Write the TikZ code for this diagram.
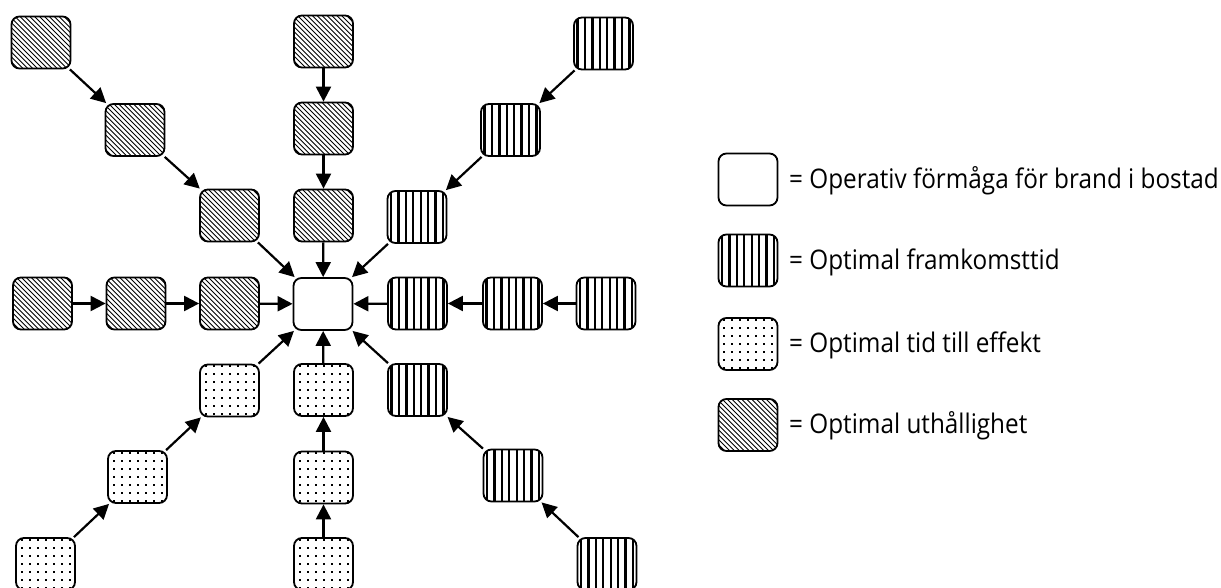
\documentclass[tikz,border=0pt]{standalone}
\usepackage{fontspec}
\setmainfont{Open Sans}[FakeStretch=0.9]
\usetikzlibrary{arrows.meta}

\tikzset{
  box/.style={draw, line width=1.8pt, rounded corners=8pt,
    minimum width=59pt, minimum height=52pt, inner sep=0pt},
  plain/.style={box, fill=white},
  % diagonal hatching, running from upper left to lower right
  uth/.style={box, path picture={
    \foreach \k in {-16,...,16}
      \draw[sharp corners, line width=0.9pt]
        ([shift={(\k*4.9pt-35pt,35pt)}]path picture bounding box.center) --
        ([shift={(\k*4.9pt+35pt,-35pt)}]path picture bounding box.center);
  }},
  % thick vertical stripes
  fram/.style={box, path picture={
    \foreach \k in {0,...,7}
      \fill[sharp corners]
        ([xshift={(\k-3.5)*7.4pt-1.15pt},yshift=-40pt]path picture bounding box.center)
        rectangle ([xshift={(\k-3.5)*7.4pt+1.15pt},yshift=40pt]path picture bounding box.center);
  }},
  % grid of small dots
  eff/.style={box, path picture={
    \foreach \i in {-3,...,3}
      \foreach \j in {-3,...,3}
        \fill[sharp corners]
          ([shift={(\i*8pt-1pt,\j*8pt-0.5pt)}]path picture bounding box.center)
          rectangle +(2pt,2pt);
  }},
  arr/.style={line width=2.2pt, -{Triangle[length=15pt,width=15pt]}},
  legtext/.style={anchor=base west, inner sep=0pt,
    font=\fontsize{27}{33}\selectfont},
}

\begin{document}
\begin{tikzpicture}[x=1pt,y=-1pt]
\useasboundingbox (0,0) rectangle (1221,588);

% centre
\node[plain] (c) at (323,304) {};

% upper-left diagonal
\node[uth] (tl1) at (41,42.5) {};
\node[uth] (tl2) at (135,130) {};
\node[uth] (tl3) at (229.5,215.5) {};
% upper column
\node[uth] (t1) at (323.5,41.5) {};
\node[uth] (t2) at (323.5,128.5) {};
\node[uth] (t3) at (323.5,215.5) {};
% left row
\node[uth] (l1) at (42.5,303.5) {};
\node[uth] (l2) at (136,303.5) {};
\node[uth] (l3) at (229.5,303.5) {};

% upper-right diagonal
\node[fram] (tr1) at (603.5,43.5) {};
\node[fram] (tr2) at (510.5,130) {};
\node[fram] (tr3) at (417,217) {};
% right row
\node[fram] (r1) at (606,303.5) {};
\node[fram] (r2) at (512.5,303.5) {};
\node[fram] (r3) at (417.5,303.5) {};
% lower-right diagonal
\node[fram] (br1) at (607,564) {};
\node[fram] (br2) at (513,475.5) {};
\node[fram] (br3) at (417.5,390) {};

% lower-left diagonal
\node[eff] (bl1) at (45.5,564) {};
\node[eff] (bl2) at (137.5,477) {};
\node[eff] (bl3) at (229.5,390.5) {};
% lower column
\node[eff] (b1) at (323.5,564) {};
\node[eff] (b2) at (323.5,477.5) {};
\node[eff] (b3) at (323.5,390) {};

% chains towards the centre
\foreach \a/\b in {tl1/tl2, tl2/tl3, tl3/c, t1/t2, t2/t3, t3/c,
                   l1/l2, l2/l3, l3/c, tr1/tr2, tr2/tr3, tr3/c,
                   r1/r2, r2/r3, r3/c, br1/br2, br2/br3, br3/c,
                   bl1/bl2, bl2/bl3, bl3/c, b1/b2, b2/b3, b3/c}
  \draw[arr] (\a) -- (\b);

% legend
\node[plain] (k1) at (748,179.5) {};
\node[fram]  (k2) at (748,260.5) {};
\node[eff]   (k3) at (748,344) {};
\node[uth]   (k4) at (748,425) {};
\node[legtext] (k1t) at (789,188.3) {= Operativ förmåga för brand i bostad};
\node[legtext] (k2t) at (789,269.3) {= Optimal framkomsttid};
\node[legtext] (k3t) at (789,352.8) {= Optimal tid till effekt};
\node[legtext] (k4t) at (789,433.8) {= Optimal uthållighet};
\end{tikzpicture}
\end{document}
